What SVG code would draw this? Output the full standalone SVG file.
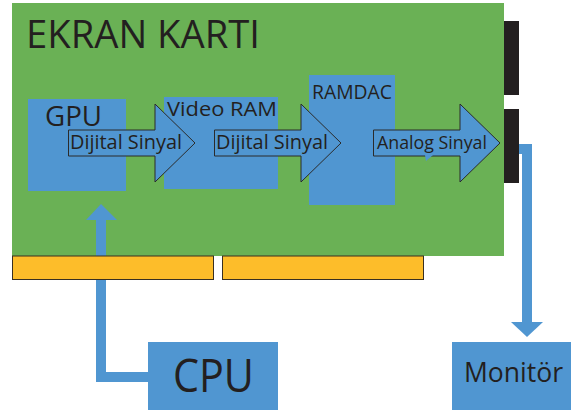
<svg xmlns="http://www.w3.org/2000/svg" width="571" height="412" viewBox="0 0 571 412">
<style>
.t{font-family:"Open Sans","Liberation Sans",sans-serif;fill:#231f20}
.blue{fill:#5096d1}
.arrow{fill:#5096d1;stroke:#2b2b2b;stroke-width:1}
.conn{fill:none;stroke:#5096d1;stroke-width:10}
.slot{fill:#fdbd2a;stroke:#3a3020;stroke-width:1}
</style>
<rect width="571" height="412" fill="#ffffff"/>
<g id="board">
<rect x="12" y="3" width="492" height="253" fill="#6ab155"/>
<text class="t" x="26" y="48" font-size="39" textLength="234" lengthAdjust="spacingAndGlyphs">EKRAN KARTI</text>
</g>
<g id="connectors">
<path class="conn" d="M101 218 V377 H150"/>
<polygon class="blue" points="86,220 101,204 117,220"/>
<path class="conn" d="M516 149 H527 V323"/>
<polygon class="blue" points="511,322 543,322 527,337"/>
</g>
<g id="ports">
<rect x="504" y="21" width="15" height="74" fill="#231f20"/>
<rect x="504" y="109" width="15" height="74" fill="#231f20"/>
</g>
<g id="slots">
<rect class="slot" x="12.5" y="256" width="201" height="23.5"/>
<rect class="slot" x="222.5" y="256" width="201" height="23.5"/>
</g>
<g id="gpu">
<rect class="blue" x="28" y="99" width="98" height="92"/>
<text class="t" x="45" y="125.5" font-size="28" textLength="57" lengthAdjust="spacingAndGlyphs">GPU</text>
</g>
<g id="videoram">
<rect class="blue" x="164" y="97" width="114" height="92"/>
<text class="t" x="167" y="116" font-size="20" textLength="110" lengthAdjust="spacingAndGlyphs">Video RAM</text>
</g>
<g id="ramdac">
<rect class="blue" x="309" y="75" width="86" height="130"/>
<text class="t" x="312" y="99" font-size="19.5" textLength="80" lengthAdjust="spacingAndGlyphs">RAMDAC</text>
</g>
<g id="arrow1">
<polygon class="arrow" points="68.5,130 155,130 155,104 195,143 155,182 155,156 68.5,156"/>
<text class="t" x="70" y="149" font-size="19.5" textLength="112" lengthAdjust="spacingAndGlyphs">Dijital Sinyal</text>
</g>
<g id="arrow2">
<polygon class="arrow" points="214.5,130 301,130 301,104 341,143 301,182 301,156 214.5,156"/>
<text class="t" x="216" y="149" font-size="19.5" textLength="112" lengthAdjust="spacingAndGlyphs">Dijital Sinyal</text>
</g>
<g id="arrow3">
<polygon class="arrow" points="373.5,130 460,130 460,104 500,143 460,182 460,156 373.5,156"/>
<polygon class="blue" points="425,155 433,155 426,161"/>
<text class="t" x="377" y="149" font-size="18.5" textLength="110" lengthAdjust="spacingAndGlyphs">Analog Sinyal</text>
</g>
<g id="cpu">
<rect class="blue" x="148" y="342" width="130" height="68"/>
<text class="t" x="173" y="392" font-size="45" textLength="81" lengthAdjust="spacingAndGlyphs">CPU</text>
</g>
<g id="monitor">
<rect class="blue" x="452" y="342" width="119" height="68"/>
<text class="t" x="464" y="382" font-size="28" textLength="99" lengthAdjust="spacingAndGlyphs">Monitör</text>
</g>
</svg>
